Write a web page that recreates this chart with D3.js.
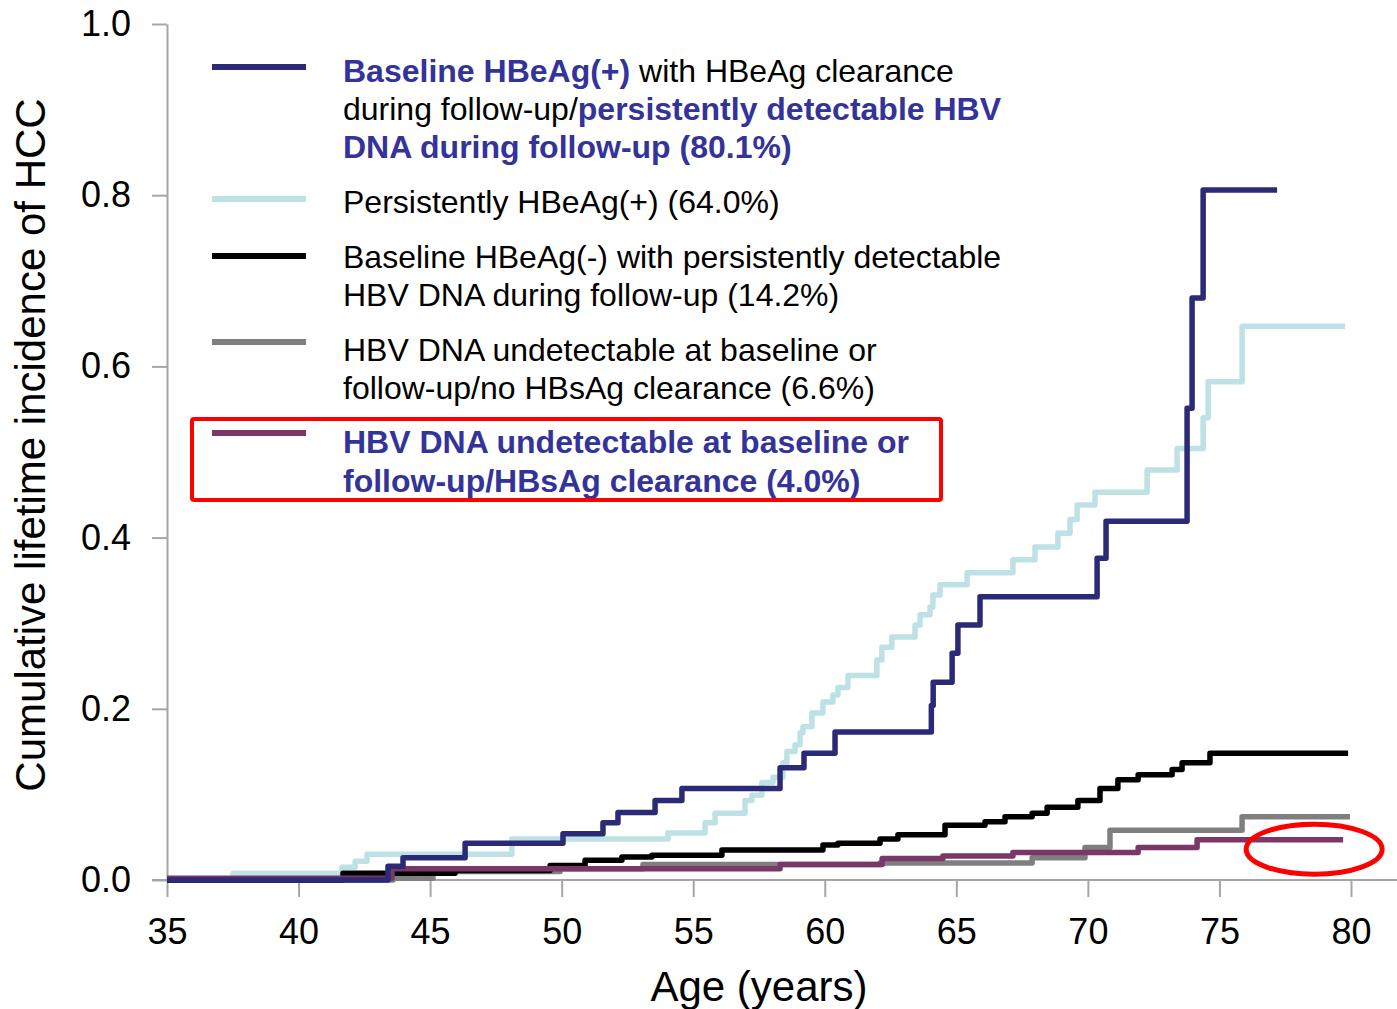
<!DOCTYPE html>
<html>
<head>
<meta charset="utf-8">
<script src="https://cdn.jsdelivr.net/npm/d3@7"></script>
<style>
  body { margin: 0; background: #fff; }
  text { font-family: "Liberation Sans", Arial, sans-serif; }
</style>
</head>
<body>
<div id="chart"></div>
<script>
// ========== Data (age in years, cumulative incidence) ==========
const xTicks = [35, 40, 45, 50, 55, 60, 65, 70, 75, 80];
const yTicks = [0, 0.2, 0.4, 0.6, 0.8, 1.0];

const hbeagClearance = [
  [35, 0], [43.4, 0.016], [43.97, 0.026], [46.33, 0.043], [50.05, 0.054],
  [51.57, 0.067], [52.14, 0.079], [53.55, 0.093], [54.57, 0.107], [58.3, 0.131],
  [59.21, 0.148], [60.39, 0.173], [64.05, 0.204], [64.12, 0.231], [64.84, 0.265],
  [65.06, 0.298], [65.9, 0.331], [70.35, 0.376], [70.69, 0.419], [73.77, 0.551],
  [73.96, 0.68], [74.38, 0.806], [77.19, 0.806]
];

const persistentHbeag = [
  [35, 0], [37.51, 0.008], [41.65, 0.015], [42.15, 0.022], [42.6, 0.03],
  [48.11, 0.048], [54.04, 0.055], [55.45, 0.067], [55.83, 0.078], [56.97, 0.093],
  [57.23, 0.099], [57.61, 0.114], [58.03, 0.12], [58.41, 0.137], [58.56, 0.15],
  [58.87, 0.158], [59.06, 0.172], [59.17, 0.179], [59.51, 0.195], [59.93, 0.208],
  [60.31, 0.216], [60.5, 0.225], [60.88, 0.239], [61.98, 0.257], [62.17, 0.272],
  [62.55, 0.284], [63.43, 0.298], [63.62, 0.31], [64.0, 0.319], [64.11, 0.333],
  [64.38, 0.345], [65.41, 0.359], [67.15, 0.374], [67.99, 0.389], [68.86, 0.405],
  [69.32, 0.421], [69.59, 0.438], [70.27, 0.453], [72.25, 0.479], [73.39, 0.504],
  [74.38, 0.54], [74.57, 0.582], [75.86, 0.647], [79.77, 0.647]
];

const hbeagNegative = [
  [35, 0], [41.69, 0.008], [45.95, 0.011], [49.56, 0.017], [50.89, 0.023],
  [52.29, 0.027], [53.43, 0.029], [56.09, 0.035], [59.93, 0.041], [60.5, 0.043],
  [62.1, 0.048], [62.78, 0.053], [64.57, 0.064], [66.09, 0.068], [66.85, 0.074],
  [67.88, 0.078], [68.45, 0.085], [69.62, 0.093], [70.46, 0.107], [71.14, 0.117],
  [71.91, 0.123], [73.2, 0.129], [73.58, 0.137], [74.64, 0.148], [79.89, 0.148]
];

const noHbsagClearance = [
  [35, 0], [43.59, 0.002], [45.11, 0.01], [49.94, 0.013], [53.09, 0.018],
  [62.1, 0.02], [67.88, 0.026], [69.89, 0.038], [70.84, 0.058], [75.86, 0.074],
  [79.96, 0.074]
];

const hbsagClearance = [
  [35, 0.002], [43.55, 0.013], [58.3, 0.018], [62.18, 0.025], [64.49, 0.028],
  [67.15, 0.032], [71.91, 0.038], [74.15, 0.047], [79.7, 0.047]
];

// legend: each entry is a list of text lines, each line a list of [text, highlighted]
const legendEntries = [
  { color: "#2b2a77", lines: [
    [["Baseline HBeAg(+)", true], [" with HBeAg clearance", false]],
    [["during follow-up/", false], ["persistently detectable HBV", true]],
    [["DNA during follow-up (80.1%)", true]]
  ]},
  { color: "#bde1e5", lines: [
    [["Persistently HBeAg(+) (64.0%)", false]]
  ]},
  { color: "#000000", lines: [
    [["Baseline HBeAg(-) with persistently detectable", false]],
    [["HBV DNA during follow-up (14.2%)", false]]
  ]},
  { color: "#7f7f7f", lines: [
    [["HBV DNA undetectable at baseline or", false]],
    [["follow-up/no HBsAg clearance (6.6%)", false]]
  ]},
  { color: "#7a3767", lines: [
    [["HBV DNA undetectable at baseline or", true]],
    [["follow-up/HBsAg clearance (4.0%)", true]]
  ]}
];

// ========== Chart ==========
const width = 1397;
const height = 1009;
const margin = { top: 24, right: 46, bottom: 129, left: 167 };

const svg = d3.select("#chart")
  .append("svg")
  .attr("width", width)
  .attr("height", height);

const x = d3.scaleLinear()
  .domain([35, 80])
  .range([margin.left, width - margin.right]);

const y = d3.scaleLinear()
  .domain([0, 1])
  .range([height - margin.bottom, margin.top]);

const axisColor = "#a6a6a6";

// y axis
const yAxis = svg.append("g")
  .attr("transform", `translate(${margin.left},0)`)
  .call(d3.axisLeft(y).tickValues(yTicks).tickFormat(d3.format(".1f"))
    .tickSize(15).tickSizeOuter(0).tickPadding(21));
yAxis.selectAll("line, path").attr("stroke", axisColor).attr("stroke-width", 2);
yAxis.selectAll("text").attr("font-size", 36).attr("fill", "#000")
  .attr("font-family", "Liberation Sans, Arial, sans-serif");

// x axis
const xAxis = svg.append("g")
  .attr("transform", `translate(0,${y(0)})`)
  .call(d3.axisBottom(x).tickValues(xTicks).tickSize(17).tickSizeOuter(0).tickPadding(21));
xAxis.select(".domain").remove();
xAxis.selectAll("line").attr("stroke", axisColor).attr("stroke-width", 2);
xAxis.selectAll("text").attr("font-size", 36).attr("fill", "#000")
  .attr("font-family", "Liberation Sans, Arial, sans-serif");
xAxis.append("line")
  .attr("x1", margin.left - 15).attr("x2", width)
  .attr("stroke", axisColor).attr("stroke-width", 2);

// axis labels
svg.append("text")
  .attr("transform", `translate(45,${(y(0) + y(1)) / 2 - 7}) rotate(-90)`)
  .attr("text-anchor", "middle")
  .attr("font-size", 42)
  .text("Cumulative lifetime incidence of HCC");

svg.append("text")
  .attr("x", (x(35) + x(80)) / 2)
  .attr("y", 1001)
  .attr("text-anchor", "middle")
  .attr("font-size", 42)
  .text("Age (years)");

// curves
const line = d3.line()
  .x((d) => x(d[0]))
  .y((d) => y(d[1]))
  .curve(d3.curveStepAfter);

const series = [
  { data: persistentHbeag, color: "#bde1e5" },
  { data: noHbsagClearance, color: "#7f7f7f" },
  { data: hbeagNegative, color: "#000000" },
  { data: hbsagClearance, color: "#7a3767" },
  { data: hbeagClearance, color: "#2b2a77" }
];

svg.selectAll(".curve")
  .data(series)
  .enter()
  .append("path")
  .attr("class", "curve")
  .attr("fill", "none")
  .attr("stroke", (d) => d.color)
  .attr("stroke-width", 5.5)
  .attr("stroke-linejoin", "round")
  .attr("d", (d) => line(d.data));

// legend
const legendLineY = [67, 199, 256, 342, 433];
const legendTextY = [81.5, 212.5, 267.5, 360.5, 452.5];
const lineGap = [38, 38, 38, 38, 39];
const highlight = "#333399";

legendEntries.forEach((entry, i) => {
  svg.append("line")
    .attr("x1", 212).attr("x2", 306)
    .attr("y1", legendLineY[i]).attr("y2", legendLineY[i])
    .attr("stroke", entry.color)
    .attr("stroke-width", 6);

  entry.lines.forEach((parts, j) => {
    const t = svg.append("text")
      .attr("x", 343)
      .attr("y", legendTextY[i] + j * lineGap[i])
      .attr("font-size", 32);
    parts.forEach(([txt, hl]) => {
      t.append("tspan")
        .attr("fill", hl ? highlight : "#000")
        .attr("font-weight", hl ? "bold" : "normal")
        .text(txt);
    });
  });
});

// red annotation box around last legend entry
svg.append("rect")
  .attr("x", 192).attr("y", 419)
  .attr("width", 749).attr("height", 81)
  .attr("rx", 2)
  .attr("fill", "none")
  .attr("stroke", "#ff0000")
  .attr("stroke-width", 4);

// red ellipse around the end of the HBsAg clearance curve
svg.append("ellipse")
  .attr("cx", x(78.6)).attr("cy", y(0.036))
  .attr("rx", 68).attr("ry", 25)
  .attr("fill", "none")
  .attr("stroke", "#ff0000")
  .attr("stroke-width", 5);
</script>
</body>
</html>
